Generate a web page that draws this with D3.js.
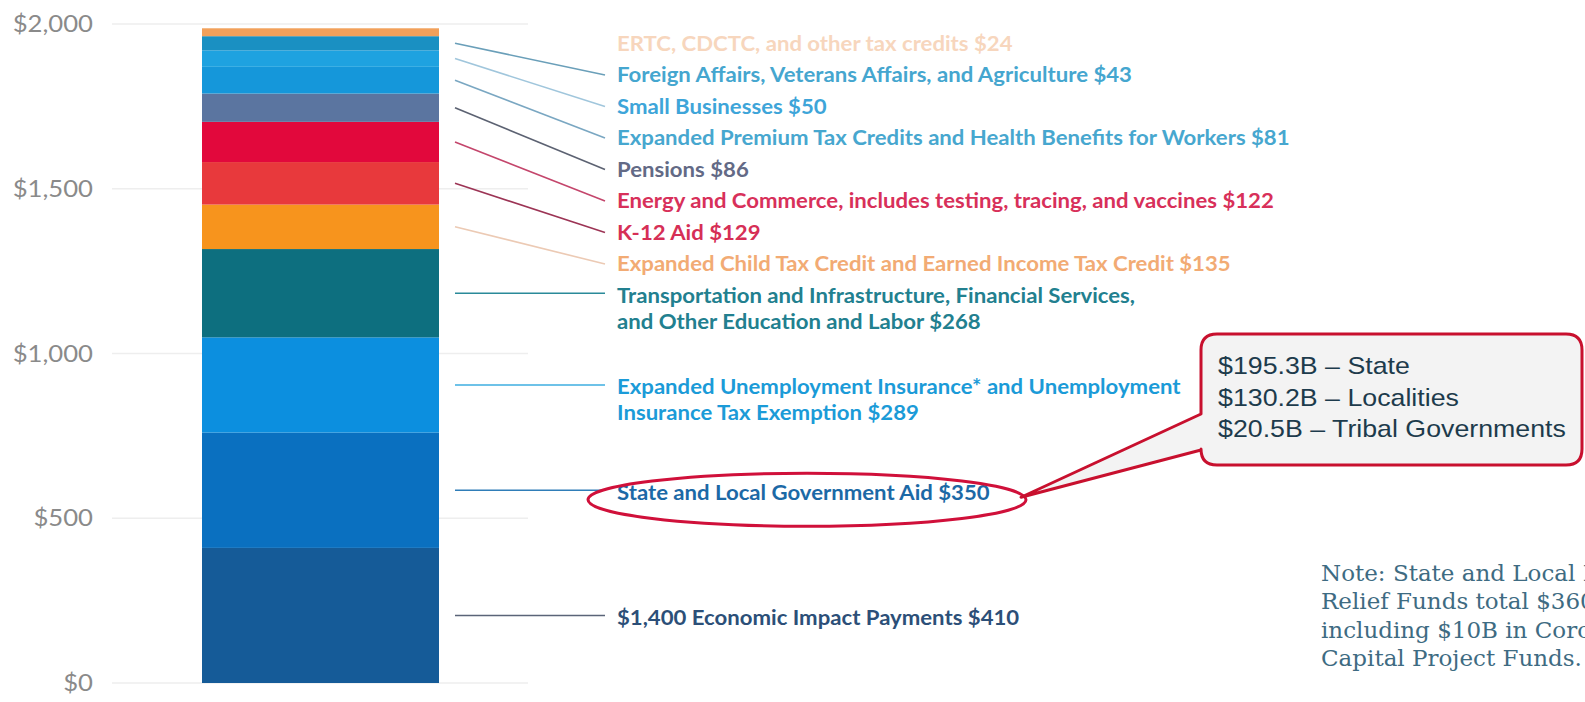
<!DOCTYPE html>
<html>
<head>
<meta charset="utf-8">
<script src="https://cdn.jsdelivr.net/npm/d3@7"></script>
<style>
  html, body { margin: 0; padding: 0; background: #ffffff; }
  svg { display: block; }
</style>
</head>
<body>
<svg id="chart" width="1585" height="702"></svg>
<script>
// ---------- DATA (bottom of the stack first) ----------
const categories = [
  "$1,400 Economic Impact Payments",
  "State and Local Government Aid",
  "Expanded Unemployment Insurance* and Unemployment Insurance Tax Exemption",
  "Transportation and Infrastructure, Financial Services, and Other Education and Labor",
  "Expanded Child Tax Credit and Earned Income Tax Credit",
  "K-12 Aid",
  "Energy and Commerce, includes testing, tracing, and vaccines",
  "Pensions",
  "Expanded Premium Tax Credits and Health Benefits for Workers",
  "Small Businesses",
  "Foreign Affairs, Veterans Affairs, and Agriculture",
  "ERTC, CDCTC, and other tax credits"
];
const values = [410, 350, 289, 268, 135, 129, 122, 86, 81, 50, 43, 24];
const tickValues = [0, 500, 1000, 1500, 2000];
const tickLabels = ["$0", "$500", "$1,000", "$1,500", "$2,000"];
const calloutLines = ["$195.3B \u2013 State", "$130.2B \u2013 Localities", "$20.5B \u2013 Tribal Governments"];
const noteLines = ["Note: State and Local Fiscal Recovery", "Relief Funds total $360B,", "including $10B in Coronavirus", "Capital Project Funds."];

// ---------- STYLES ----------
const segColors = ["#155b98", "#0a70c0", "#0c8fdf", "#0d6f7f", "#f7941d", "#e8393c", "#e2083c",
                   "#5b75a0", "#1597da", "#1ea2e0", "#1a90c2", "#f2a05a"];
const textColors = ["#2c4f78", "#1c69a6", "#1b9bd8", "#22808f", "#f2ab74", "#d62f56", "#d8305a",
                    "#636a86", "#47a7cf", "#3ea5d9", "#45a6cf", "#f7d6bd"];
const lineColors = ["#5a6478", "#2f7db8", "#3eaee0", "#2a8a99", "#eccab4", "#9c3455", "#c4466c",
                    "#5c6272", "#7aa7c2", "#a0c6dc", "#6a9fb9", "none"];
// label line breaks (index -> number of words on first line)
const breaks = {2: 5, 3: 5};

const svg = d3.select("#chart");
const y = d3.scaleLinear().domain([0, 2000]).range([683, 24]);
const barX0 = 202, barX1 = 439;

// gridlines
svg.append("g").selectAll("line").data(tickValues).join("line")
  .attr("x1", 112).attr("x2", 528)
  .attr("y1", d => y(d)).attr("y2", d => y(d))
  .attr("stroke", "#eeeeee").attr("stroke-width", 1.5);

// axis labels
const axis = d3.axisLeft(y).tickValues(tickValues).tickFormat((d, i) => tickLabels[i]).tickSize(0).tickPadding(0);
const ag = svg.append("g").attr("transform", "translate(93,0) scale(1.07,1)").call(axis);
ag.select(".domain").remove();
ag.selectAll("text").attr("font-family", "Lato").attr("font-size", 24).attr("fill", "#8a8a8a");

// stacked segments
let cum = 0;
const segs = values.map((v, i) => { const s = {i, v, y0: cum, y1: cum + v}; cum += v; return s; });
svg.append("g").selectAll("rect").data(segs).join("rect")
  .attr("x", barX0).attr("width", barX1 - barX0)
  .attr("y", d => y(d.y1)).attr("height", d => y(d.y0) - y(d.y1))
  .attr("fill", d => segColors[d.i]);

// label positions
const labelY = d => d.i >= 4 ? 43.5 + (11 - d.i) * 31.5 : y((d.y0 + d.y1) / 2) + 2;

// leader lines
svg.append("g").selectAll("line").data(segs.filter(d => lineColors[d.i] !== "none")).join("line")
  .attr("x1", 455).attr("y1", d => y((d.y0 + d.y1) / 2))
  .attr("x2", 605).attr("y2", d => d.i >= 4 ? labelY(d) : y((d.y0 + d.y1) / 2))
  .attr("stroke", d => lineColors[d.i]).attr("stroke-width", 1.6);

// labels
const lg = svg.append("g").attr("transform", "translate(617,0) scale(1.055,1)")
  .attr("font-family", "Lato").attr("font-weight", 700).attr("font-size", 21);
segs.forEach(d => {
  const full = categories[d.i] + " $" + d.v;
  const words = full.split(" ");
  const lines = breaks[d.i] ? [words.slice(0, breaks[d.i]).join(" "), words.slice(breaks[d.i]).join(" ")] : [full];
  const t = lg.append("text").attr("x", 0).attr("y", labelY(d)).attr("fill", textColors[d.i]);
  lines.forEach((ln, k) => t.append("tspan").attr("x", 0).attr("dy", k === 0 ? "0.35em" : 26).text(ln));
});

// ellipse around State and Local label
const slY = labelY(segs[1]);
svg.append("ellipse").attr("cx", 807).attr("cy", slY + 7.5).attr("rx", 219).attr("ry", 26.5)
  .attr("fill", "none").attr("stroke", "#d0103a").attr("stroke-width", 3);

// callout bubble
const bx0 = 1201, bx1 = 1582, by0 = 334, by1 = 465, r = 16;
const tipX = 1021, tipY = slY + 5;
const p = d3.path();
p.moveTo(bx0 + r, by0);
p.lineTo(bx1 - r, by0); p.quadraticCurveTo(bx1, by0, bx1, by0 + r);
p.lineTo(bx1, by1 - r); p.quadraticCurveTo(bx1, by1, bx1 - r, by1);
p.lineTo(bx0 + r, by1); p.quadraticCurveTo(bx0, by1, bx0, by1 - r);
p.lineTo(bx0, 450); p.lineTo(tipX, tipY); p.lineTo(bx0, 414);
p.lineTo(bx0, by0 + r); p.quadraticCurveTo(bx0, by0, bx0 + r, by0);
p.closePath();
svg.append("path").attr("d", p.toString()).attr("fill", "#f3f3f3")
  .attr("stroke", "#c8102e").attr("stroke-width", 3).attr("stroke-linejoin", "round");
svg.append("g").attr("transform", "translate(1218,0) scale(1.115,1)")
  .selectAll("text").data(calloutLines).join("text")
  .attr("x", 0).attr("y", (d, i) => 366 + i * 31.5).attr("dy", "0.35em")
  .attr("font-family", "Liberation Sans, Arial").attr("font-size", 24).attr("fill", "#1d3b4c")
  .text(d => d);

// note
svg.append("g").selectAll("text").data(noteLines).join("text")
  .attr("x", 1321).attr("y", (d, i) => 573 + i * 28.3).attr("dy", "0.35em")
  .attr("font-family", "DejaVu Serif").attr("font-size", 23).attr("fill", "#3e6b82")
  .text(d => d);
</script>
</body>
</html>
